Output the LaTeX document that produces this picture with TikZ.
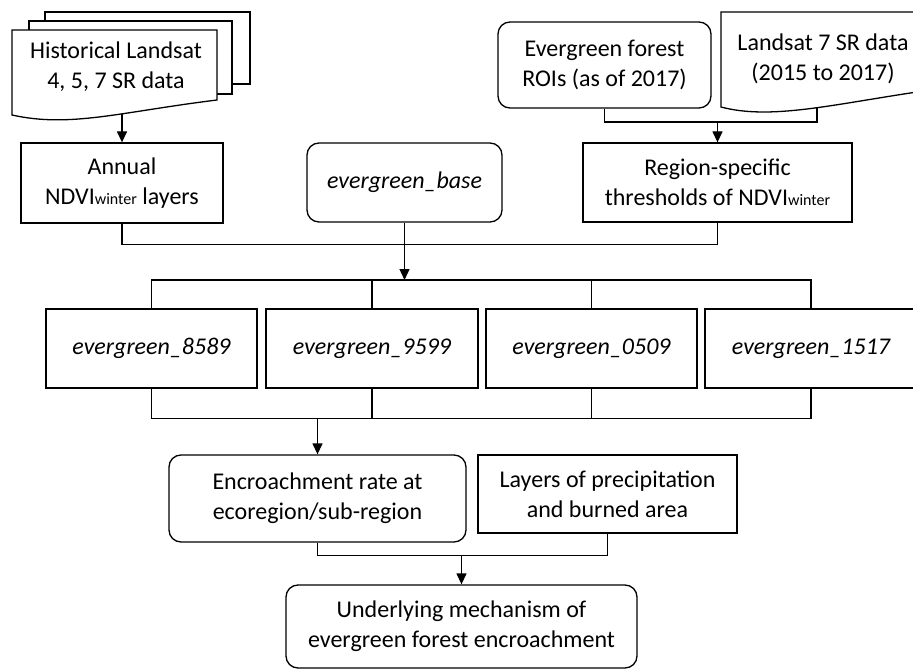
\documentclass[tikz,border=0pt]{standalone}
\usepackage{fontspec}
\setmainfont{Carlito}
\usetikzlibrary{positioning, arrows.meta}
\newcommand{\wint}{{\fontsize{16}{16}\selectfont winter}}

\begin{document}
\begin{tikzpicture}[x=1pt, y=-1pt, line width=1.3pt,
  box/.style={draw, rectangle, align=center, inner sep=0pt},
  rbox/.style={box, rounded corners=12pt},
  arr/.style={-{Triangle[length=11pt, width=10pt]}},
  font=\fontsize{24}{30}\selectfont]
  \useasboundingbox (0,0) rectangle (913,671);

  \draw[fill=white] (45,12) rectangle (250,84);
  \draw[fill=white] (29,21) rectangle (232,94);
  \draw[fill=white] (12,30) -- (217,30) -- (217,100)
    .. controls (120,112) and (70,128) .. (12,115) -- cycle;
  \draw (116,67) node[align=center] (hist) {Historical Landsat\\4, 5, 7 SR data};
  \coordinate (histbot) at (122,114);

  \draw[fill=white] (721,12) -- (917,12) -- (917,92)
    .. controls (830,105) and (770,120) .. (721,107) -- cycle;
  \draw (823,59) node[align=center] (landsat) {Landsat 7 SR data\\(2015 to 2017)};
  \coordinate (lsbot) at (817,108);

  \draw (604.5,65) node[rbox, minimum width=213pt, minimum height=86pt] (rois)
    {Evergreen forest\\ROIs (as of 2017)};

  \draw (122,183) node[box, minimum width=202pt, minimum height=80pt] (annual)
    {Annual\\NDVI\wint{} layers};
  \draw (404.5,182.5) node[rbox, minimum width=195pt, minimum height=79pt] (base)
    {\itshape evergreen\_base};
  \draw (717.5,182.5) node[box, minimum width=269pt, minimum height=79pt] (region)
    {Region-specific\\thresholds of NDVI\wint};

  \draw (151.5,348.5) node[box, minimum width=211pt, minimum height=79pt] (e8589)
    {\itshape evergreen\_8589};
  \draw (372,348.5) node[box, minimum width=212pt, minimum height=79pt] (e9599)
    {\itshape evergreen\_9599};
  \draw (591.5,348.5) node[box, minimum width=211pt, minimum height=79pt] (e0509)
    {\itshape evergreen\_0509};
  \draw (811,348.5) node[box, minimum width=212pt, minimum height=79pt] (e1517)
    {\itshape evergreen\_1517};

  \draw (317.5,498.5) node[rbox, minimum width=297pt, minimum height=87pt] (enc)
    {Encroachment rate at\\ecoregion/sub-region};
  \draw (607.5,494) node[box, minimum width=259pt, minimum height=78pt] (layers)
    {Layers of precipitation\\and burned area};
  \draw (461.5,626.5) node[rbox, minimum width=351pt, minimum height=83pt] (under)
    {Underlying mechanism of\\evergreen forest encroachment};

  % top rows
  \draw[arr] (histbot) -- (annual);
  \coordinate (b0) at (717.5,122);
  \draw (rois.south) |- (b0) -| (lsbot);
  \draw[arr] (b0) -- (region);
  \draw (annual.south) -- ++(0,21) -| (region.south);

  % evergreen layers
  \coordinate (b2) at (404.5,280);
  \draw[arr] (base) -- (b2);
  \draw (e8589.north) |- (b2) -| (e1517.north);
  \draw (e9599.north) -- (e9599.north |- b2);
  \draw (e0509.north) -- (e0509.north |- b2);
  \draw (e8589.south) -- ++(0,30) -| (e1517.south);
  \draw (e9599.south) -- ++(0,30);
  \draw (e0509.south) -- ++(0,30);

  % analysis
  \coordinate (b3) at (317.5,418);
  \draw[arr] (b3) -- (enc);
  \draw (enc.south) -- ++(0,13) -| (layers.south);
  \coordinate (b4) at (461.5,555);
  \draw[arr] (b4) -- (under);
\end{tikzpicture}
\end{document}
